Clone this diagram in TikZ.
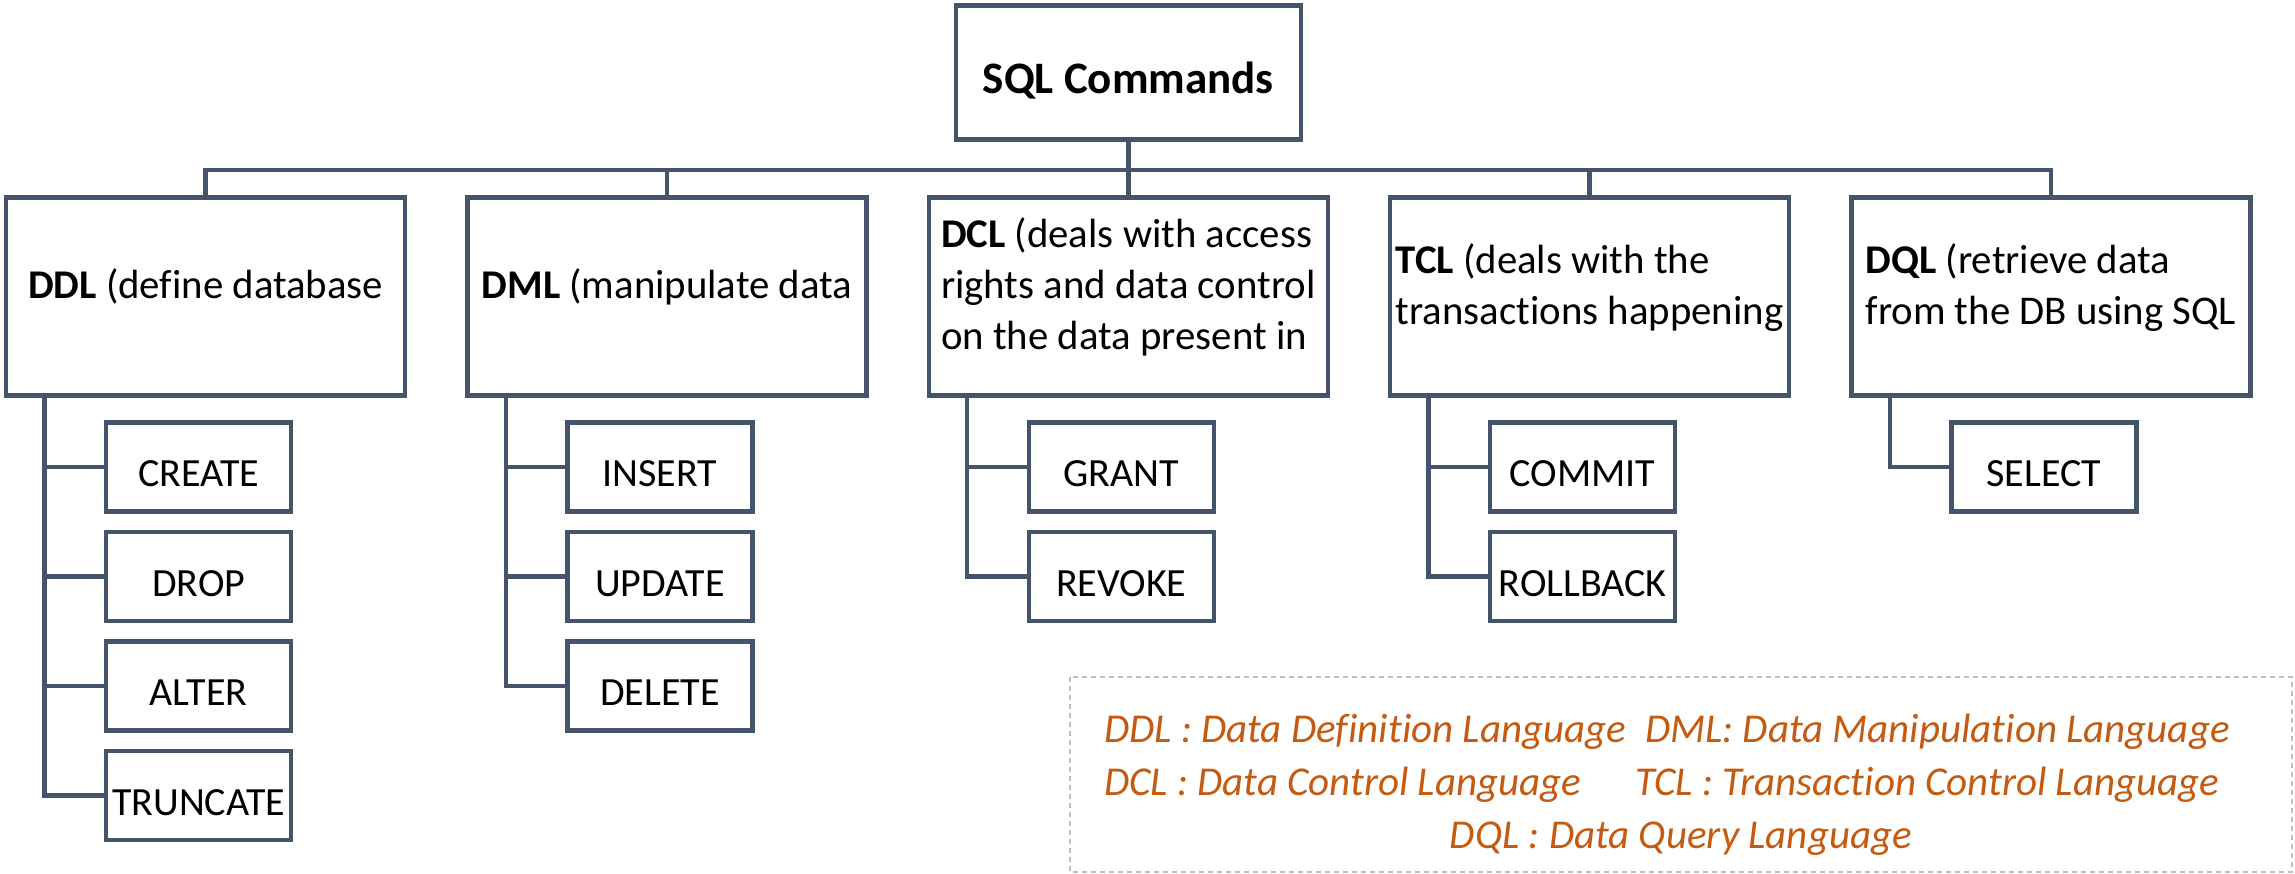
\documentclass[tikz,border=0pt]{standalone}
\usepackage{fontspec}
\setmainfont{Carlito}[Ligatures=NoCommon]
\definecolor{Frame}{HTML}{44546A}
\definecolor{Legend}{HTML}{C55A11}
\definecolor{Dash}{HTML}{BFBFBF}

% lines of a language box, centred on the box
\newcommand{\grouplines}[1]{\raisebox{1.5pt}[0pt][0pt]{\begin{tabular}{@{}l@{}}#1\end{tabular}}}

\tikzset{
  rootbox/.style={draw=Frame, line width=4.5pt, minimum width=345pt, minimum height=134pt, inner sep=0pt, text height=41.6pt, text depth=0pt, font=\fontsize{45}{55}\selectfont\bfseries},
  groupbox/.style={draw=Frame, line width=4.5pt, minimum width=399pt, minimum height=198pt, inner sep=0pt, font=\fontsize{40.8}{51}\selectfont},
  cmdbox/.style={draw=Frame, line width=4.5pt, minimum width=185pt, minimum height=89pt, inner sep=0pt, text height=39.4pt, text depth=0pt, font=\fontsize{40}{48}\selectfont},
  link/.style={draw=Frame, line width=4.5pt},
  legendtext/.style={text=Legend, inner sep=0pt, font=\fontsize{41}{50}\selectfont\itshape},
}

\begin{document}
\begin{tikzpicture}[x=1pt, y=-1pt]
 \useasboundingbox (0,0) rectangle (2295,874);

 %%%%%%%%%% Root %%%%%%%%%%
 \node[rootbox] (sql) at (1128.3,72.5) {SQL Commands};
 \coordinate (bus) at (1128.3,170);

 %%%%%%%%%% Languages %%%%%%%%%%
 \node[groupbox] (ddl) at (205.7,296.5) {\grouplines{\textbf{DDL} (define database}};
 \node[groupbox] (dml) at (667,296.5) {\grouplines{\textbf{DML} (manipulate data}};
 \node[groupbox] (dcl) at (1128.3,296.5) {\grouplines{\textbf{DCL} (deals with access\\rights and data control\\on the data present in}};
 \node[groupbox] (tcl) at (1589.6,296.5) {\grouplines{\textbf{TCL} (deals with the\\transactions happening}};
 \node[groupbox] (dql) at (2050.9,296.5) {\grouplines{\textbf{DQL} (retrieve data\\ from the DB using SQL}};

 % Bus
 \draw[link] (sql.south) -- (bus);
 \draw[link] (ddl.north) -- (ddl.north |- bus) -- (dql.north |- bus) -- (dql.north);
 \draw[link] (dml.north) -- (dml.north |- bus);
 \draw[link] (dcl.north) -- (bus);
 \draw[link] (tcl.north) -- (tcl.north |- bus);

 %%%%%%%%%% Commands %%%%%%%%%%
 \node[cmdbox] (create) at (198.7,467) {CREATE};
 \node[cmdbox] (drop) at (198.7,576.5) {DROP};
 \node[cmdbox] (alter) at (198.7,686) {ALTER};
 \node[cmdbox] (truncate) at (198.7,795.5) {TRUNCATE};

 \node[cmdbox] (insert) at (660,467) {INSERT};
 \node[cmdbox] (update) at (660,576.5) {UPDATE};
 \node[cmdbox] (delete) at (660,686) {DELETE};

 \node[cmdbox] (grant) at (1121.3,467) {GRANT};
 \node[cmdbox] (revoke) at (1121.3,576.5) {REVOKE};

 \node[cmdbox] (commit) at (1582.6,467) {COMMIT};
 \node[cmdbox] (rollback) at (1582.6,576.5) {ROLLBACK};

 \node[cmdbox] (select) at (2043.9,467) {SELECT};

 % Spines
 \coordinate (ddlspine) at (44.6,0);
 \coordinate (dmlspine) at (505.9,0);
 \coordinate (dclspine) at (967.2,0);
 \coordinate (tclspine) at (1428.5,0);
 \coordinate (dqlspine) at (1889.8,0);

 \draw[link] (ddl.south -| ddlspine) -- (ddlspine |- truncate.west) -- (truncate.west);
 \draw[link] (dml.south -| dmlspine) -- (dmlspine |- delete.west) -- (delete.west);
 \draw[link] (dcl.south -| dclspine) -- (dclspine |- revoke.west) -- (revoke.west);
 \draw[link] (tcl.south -| tclspine) -- (tclspine |- rollback.west) -- (rollback.west);
 \draw[link] (dql.south -| dqlspine) -- (dqlspine |- select.west) -- (select.west);

 \foreach \c in {create, drop, alter}
   \draw[link] (ddlspine |- \c.west) -- (\c.west);
 \foreach \c in {insert, update}
   \draw[link] (dmlspine |- \c.west) -- (\c.west);
 \draw[link] (dclspine |- grant.west) -- (grant.west);
 \draw[link] (tclspine |- commit.west) -- (commit.west);

 %%%%%%%%%% Legend %%%%%%%%%%
 \draw[draw=Dash, line width=1.5pt, dash pattern=on 5pt off 4pt] (1070,677) rectangle (2292,872);
 \node[legendtext, anchor=base west] (ddlkey) at (1104,742) {DDL : Data Definition Language};
 \node[legendtext, anchor=base west] (dmlkey) at (1645,742) {DML: Data Manipulation Language};
 \node[legendtext, anchor=base west] (dclkey) at (1104,795) {DCL : Data Control Language};
 \node[legendtext, anchor=base west] (tclkey) at (1635,795) {TCL : Transaction Control Language};
 \node[legendtext, anchor=base] (dqlkey) at (1681,848) {DQL : Data Query Language};

\end{tikzpicture}
\end{document}
